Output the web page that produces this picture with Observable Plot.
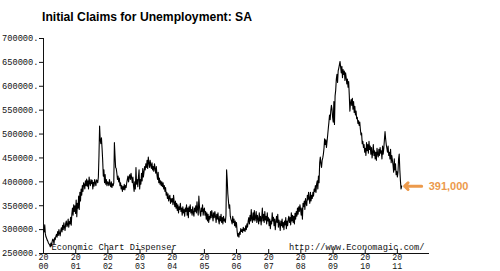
<!DOCTYPE html>
<html><head><meta charset="utf-8">
<script src="https://cdn.jsdelivr.net/npm/d3@7"></script>
<script src="https://cdn.jsdelivr.net/npm/@observablehq/plot@0.6"></script>
<style>
body{margin:0;background:#fff}
#wrap{position:relative;width:500px;height:271px;overflow:hidden}
#wrap svg{position:absolute;left:0;top:0;display:block}
#title{position:absolute;left:42px;top:10px;font:bold 13.5px/14px "Liberation Sans",Arial,sans-serif;color:#000;transform:scaleX(0.9);transform-origin:0 0;white-space:nowrap;z-index:2}
</style></head><body>
<div id="wrap"><div id="title"></div></div>
<script>
const title = "Initial Claims for Unemployment: SA";
const leftNote = "Economic Chart Dispenser";
const rightNote = "http://www.Economagic.com/";
const yTicks = [250000,300000,350000,400000,450000,500000,550000,600000,650000,700000];
const xTickYears = [2000,2001,2002,2003,2004,2005,2006,2007,2008,2009,2010,2011];

// weekly initial claims, thousands (week ending Saturdays of each year)
const claims2000 = [300,295,310,291,285, 282,278,276,272, 270,268,264,272, 266,275,280,278,270, 283,279,286,290, 284,296,288,300,292, 287,298,304,295, 309,300,314,305, 298,313,318,306,310, 322,305,317,312, 326,309,333,345, 330,352,338,350,334];
const claims2001 = [362,327,355,345, 370,342,378,360, 385,372,392,380,398, 394,385,402,392, 406,391,402,385, 410,398,392,405,396, 403,385,399,391, 405,398,392,404, 402,398,410,455,517, 488,480,492,470, 445,412,425,398, 415,395,405,392,400];
const claims2002 = [398,392,405,395, 390,400,388,396, 392,398,482,455,430, 428,418,405,412, 400,408,392,398, 385,392,380,390,384, 395,383,392,388, 398,405,412,400,410, 415,405,418,408, 398,410,392,380, 400,385,430,395,405, 390,410,425,385];
const claims2003 = [405,395,418,402, 428,410,420,432, 425,438,430,445,428, 452,440,430,445, 435,428,440,425,432, 422,438,428,418, 432,415,405,420, 398,408,395,402,392, 400,390,398,385, 392,380,388,372, 378,365,375,360,368, 372,355,365,358];
const claims2004 = [365,352,372,358,348, 360,345,355,340, 352,335,348,342, 355,338,345,330, 348,335,342,328,345, 338,352,330,345, 325,348,338,352,335, 342,330,348,335, 328,345,338,350, 335,358,342,330,370, 348,335,328,345, 338,352,330,342];
const claims2005 = [345,330,338,322,335, 318,332,315,328, 322,338,325,340, 330,318,335,325,338, 328,315,332,322, 335,320,312,328, 318,332,315,325,312, 328,318,322,315, 330,425,405,375, 360,345,352,328,322, 318,312,328,315, 322,308,318,305,315];
const claims2006 = [298,286,292,284, 295,290,302,296, 300,294,305,298, 302,296,308,300,312, 305,318,325,312, 330,318,342,322, 315,335,320,340,318, 325,338,315,330, 322,312,335,318,328, 310,325,345,318, 332,315,338,320, 328,312,335,318,325];
const claims2007 = [308,322,302,318, 312,335,318,326, 308,322,300,316,328, 315,332,305,320, 312,298,318,308, 322,305,315,300,318, 310,325,302,318, 308,322,328,315, 325,310,335,318,330, 315,328,312,334, 322,338,328,345, 332,348,338,352,342];
const claims2008 = [330,345,322,355, 348,360,342,365, 355,350,372,362,378, 365,355,378,360, 372,365,378,370,385, 380,392,378,395, 402,385,412,398, 440,452,438,430,445, 450,458,470,490, 478,488,472,485, 498,512,525,540,530, 548,560,552,535];
const claims2009 = [525,568,520,580,592, 615,625,608,632, 638,645,652,640, 628,642,618,635, 625,632,612,628,618, 605,615,598,610, 582,548,565,572, 560,575,552,568,545, 558,540,548,532, 535,522,528,518,525, 510,498,502,480, 485,472,478,462];
const claims2010 = [470,455,482,465,478, 460,485,468,475, 458,472,450,462, 478,455,465,448, 462,445,470,458,452, 468,455,472,460, 465,448,475,458,470, 488,505,490,478, 470,462,475,455, 462,448,468,440,455, 445,435,420,448, 425,438,415,422];
const claims2011 = [410,420,448,458,425, 402,385,391];

const yearSeries = [claims2000,claims2001,claims2002,claims2003,claims2004,claims2005,claims2006,claims2007,claims2008,claims2009,claims2010,claims2011];
const data = [];
yearSeries.forEach((vals, k) => {
  const first = d3.timeSaturday.ceil(new Date(2000 + k, 0, 1));
  vals.forEach((v, i) => data.push({date: d3.timeDay.offset(first, 7 * i), value: v * 1000}));
});
const last = data[data.length - 1];
const orange = "#ec9a4c";

document.getElementById("title").textContent = title;

const chart = Plot.plot({
  width: 500, height: 271,
  marginTop: 38, marginBottom: 18, marginLeft: 43, marginRight: 71,
  style: {fontFamily: "'Liberation Mono', 'DejaVu Sans Mono', monospace", fontSize: "8.7px", color: "#111", background: "transparent"},
  x: {type: "time", domain: [new Date(2000, 0, 1), new Date(2012, 0, 1)]},
  y: {domain: [250000, 700000]},
  marks: [
    Plot.axisY({ticks: yTicks, tickSize: 4, tickPadding: 1, tickFormat: d => d + ".", label: null}),
    Plot.axisX({ticks: xTickYears.map(y => new Date(y, 0, 1)), tickSize: -4, tickPadding: 5, lineHeight: 1.0, fontSize: 8.3,
      tickFormat: d => { const s = String(d.getFullYear()); return s.slice(0, 2) + "\n" + s.slice(2); }, label: null}),
    Plot.ruleX([new Date(2000, 0, 1)], {stroke: "#111"}),
    Plot.ruleY([250000], {stroke: "#111"}),
    Plot.text([leftNote], {frameAnchor: "bottom-left", dx: 8, dy: -4, textAnchor: "start", lineAnchor: "bottom"}),
    Plot.text([rightNote], {frameAnchor: "bottom-right", dx: -5, dy: -4, textAnchor: "end", lineAnchor: "bottom"}),
    Plot.line(data, {x: "date", y: "value", stroke: "#000", strokeWidth: 1.1}),
    Plot.vector([last], {x: "date", y: "value", length: 17, rotate: 270, anchor: "end", dx: 3, stroke: orange, strokeWidth: 3}),
    Plot.text([last], {x: "date", y: "value", text: d => d3.format(",")(d.value), dx: 27, textAnchor: "start",
      fill: orange, fontWeight: "bold", fontSize: 11, fontFamily: "'Liberation Sans', Arial, sans-serif"})
  ]
});
document.getElementById("wrap").appendChild(chart);
</script>
</body></html>
